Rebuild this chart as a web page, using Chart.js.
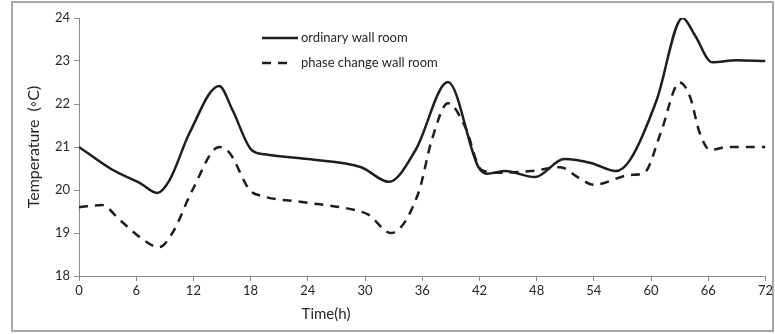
<!DOCTYPE html>
<html>
<head>
<meta charset="utf-8">
<script src="https://cdn.jsdelivr.net/npm/chart.js@4"></script>
<style>
    body { margin: 0; background: #fff; }
</style>
</head>
<body>
<canvas id="myGraph" width="775" height="334"></canvas>
<script>
// Datos (horas y temperatura)
const ordinaryHours = [0, 3.5, 6.4, 8.2, 9.5, 11.6, 14.7, 16.1, 18.1, 19.5, 24, 29.6, 32.5, 35.3, 38.7, 41.9, 42.8, 44.7, 47.8, 50.9, 53.7, 56.3, 57.8, 60.6, 63.3, 64.6, 66.4, 69, 72];
const ordinaryTemp = [21.0, 20.47, 20.16, 19.93, 20.23, 21.33, 22.42, 21.86, 20.93, 20.83, 20.72, 20.53, 20.19, 20.93, 22.51, 20.53, 20.38, 20.44, 20.3, 20.72, 20.63, 20.44, 20.7, 22.1, 24.0, 23.6, 22.97, 23.02, 23.0];

const phaseHours = [0, 2.4, 4.3, 6.4, 8.4, 9.8, 11.9, 14.7, 15.8, 17.9, 19.2, 23.4, 29, 30.4, 32.7, 35.6, 37, 38.7, 40.5, 42.2, 44, 47.4, 50.5, 52.3, 54, 57.8, 59.3, 61, 63, 64.1, 65.1, 66.2, 68, 72];
const phaseTemp = [19.6, 19.65, 19.3, 18.9, 18.67, 19.0, 20.0, 21.0, 20.86, 20.0, 19.86, 19.72, 19.53, 19.42, 19.0, 19.93, 21.16, 22.02, 21.47, 20.47, 20.4, 20.44, 20.53, 20.3, 20.12, 20.35, 20.4, 21.32, 22.5, 22.16, 21.33, 20.93, 21.0, 21.0];

const seriesNames = ["ordinary wall room", "phase change wall room"];
const xTitle = "Time(h)";
const yTitle = "Temperature  (\u25E6C)";

const toPoints = (xs, ys) => xs.map((x, i) => ({ x: x, y: ys[i] }));

const fontName = "Lato, 'Liberation Sans', sans-serif";
const inkColor = "#1e1e1e";
const textColor = "#262626";
const axisColor = "#8c8c8c";

// Marco, leyenda y título del eje X dibujados sobre el canvas
const extrasPlugin = {
    id: "extras",
    beforeDraw: (chart) => {
        const ctx = chart.ctx;
        ctx.save();
        ctx.fillStyle = "#fff";
        ctx.fillRect(0, 0, chart.width, chart.height);
        ctx.strokeStyle = "#a8a8a8";
        ctx.lineWidth = 2;
        ctx.strokeRect(12, 2, 761, 329);
        ctx.restore();
    },
    afterDraw: (chart) => {
        const ctx = chart.ctx;
        const area = chart.chartArea;
        ctx.save();
        ctx.font = "13px " + fontName;
        ctx.fillStyle = textColor;
        ctx.textBaseline = "middle";
        chart.data.datasets.forEach((ds, i) => {
            const y = area.top + 20 + i * 25;
            const x0 = area.left + 183;
            ctx.strokeStyle = inkColor;
            ctx.lineWidth = 2.5;
            ctx.setLineDash(ds.borderDash || []);
            ctx.beginPath();
            ctx.moveTo(x0, y);
            ctx.lineTo(x0 + (ds.borderDash ? 27 : 36), y);
            ctx.stroke();
            ctx.setLineDash([]);
            ctx.fillText(ds.label, x0 + 39, y);
        });
        // Título del eje X
        ctx.font = "15px " + fontName;
        ctx.textAlign = "center";
        ctx.fillText(xTitle, 326, 314);
        ctx.restore();
    },
};

const ctx = document.getElementById("myGraph").getContext("2d");

const myGraph = new Chart(ctx, {
    type: "line",
    data: {
        datasets: [
            {
                label: seriesNames[0],
                data: toPoints(ordinaryHours, ordinaryTemp),
                borderColor: inkColor,
                borderWidth: 2.5,
                pointRadius: 0,
                cubicInterpolationMode: "monotone",
            },
            {
                label: seriesNames[1],
                data: toPoints(phaseHours, phaseTemp),
                borderColor: inkColor,
                borderWidth: 2.5,
                borderDash: [9, 7],
                pointRadius: 0,
                cubicInterpolationMode: "monotone",
            },
        ],
    },
    options: {
        responsive: false,
        animation: false,
        maintainAspectRatio: false,
        layout: { padding: { left: 12, right: 2, top: 18, bottom: 0 } },
        plugins: {
            legend: { display: false },
            tooltip: { enabled: false },
        },
        scales: {
            x: {
                type: "linear",
                min: 0,
                max: 72,
                ticks: { stepSize: 6, maxRotation: 0, color: textColor, font: { family: fontName, size: 13 }, padding: 2 },
                grid: { drawOnChartArea: false, color: axisColor, tickLength: 5 },
                border: { color: axisColor },
                afterFit: (s) => { s.height = 58; },
            },
            y: {
                min: 18,
                max: 24,
                ticks: { stepSize: 1, color: textColor, font: { family: fontName, size: 13 }, padding: 4 },
                grid: { drawOnChartArea: false, color: axisColor, tickLength: 5 },
                border: { color: axisColor },
                title: { display: true, text: yTitle, color: textColor, font: { family: fontName, size: 16 }, padding: { top: 12 } },
                afterFit: (s) => { s.width = 67; },
            },
        },
    },
    plugins: [extrasPlugin],
});
</script>
</body>
</html>
